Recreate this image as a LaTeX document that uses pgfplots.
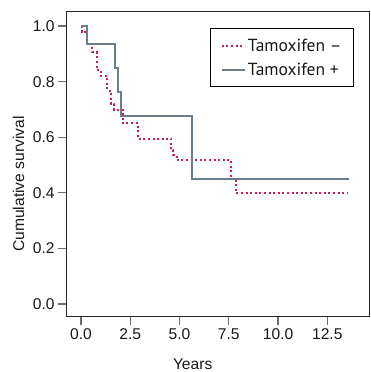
\documentclass[border=0pt]{standalone}
\usepackage{fontspec}
\setmainfont{Liberation Sans}
\newfontfamily\legfont{PT Sans}
\usepackage{pgfplots}
\pgfplotsset{compat=1.18}
\definecolor{tamneg}{RGB}{200,32,85}
\definecolor{tampos}{RGB}{108,126,138}
\definecolor{tickgray}{RGB}{110,110,110}
\begin{document}
\begin{tikzpicture}
\begin{axis}[
  at={(66.7pt,55.3pt)}, anchor=south west,
  scale only axis, width=302.8pt, height=305pt,
  xmin=-0.726, xmax=14.64, ymin=-0.046, ymax=1.052,
  xtick={0,2.5,5,7.5,10,12.5},
  ytick={0,0.2,0.4,0.6,0.8,1.0},
  tick align=outside, major tick length=8.5pt,
  tick style={tickgray, line width=1.3pt},
  xtick pos=bottom, ytick pos=left,
  axis line style={black!85, line width=1.3pt},
  /pgf/number format/assume math mode=true,
  /pgf/number format/.cd, fixed, fixed zerofill, precision=1, /pgfplots/.cd,
  ticklabel style={font=\fontsize{15.6}{18}\selectfont, text=black!90},
  label style={font=\fontsize{15.6}{18}\selectfont, text=black!90},
  xlabel={Years},
  ylabel={Cumulative survival},
  xlabel style={at={(axis description cs:0.416,-0.155)}, anchor=center},
  ylabel style={at={(axis description cs:-0.159,0.435)}, anchor=center, rotate=0},
  legend style={at={(axis description cs:0.9488,0.9456)}, anchor=north east,
    draw=black, line width=1.2pt, font=\legfont\fontsize{17.5}{20}\selectfont,
    inner xsep=10pt, inner ysep=8pt, row sep=6pt, text=black!90},
  legend cell align=left,
  legend image code/.code={\draw[#1] (0pt,0pt) -- (23pt,0pt);},
]
\addplot[const plot, tamneg, line width=2pt, dash pattern=on 2pt off 2.6pt] coordinates {
(0,1.0) (0.03,0.979) (0.29,0.934) (0.56,0.906) (0.80,0.843) (1.00,0.821)
(1.34,0.768) (1.50,0.720) (1.675,0.698) (2.12,0.650) (2.89,0.595)
(4.58,0.554) (4.69,0.537) (4.86,0.517) (7.63,0.450) (7.85,0.400) (13.52,0.400)};
\addlegendentry{Tamoxifen –}
\addplot[const plot, tampos, line width=2pt] coordinates {
(0,1.0) (0.29,0.934) (1.74,0.848) (1.90,0.764) (2.03,0.677) (5.63,0.451) (13.62,0.451)};
\addlegendentry{Tamoxifen +}
\end{axis}
\pgfresetboundingbox
\path[use as bounding box] (0,0) rectangle (370pt,372pt);
\end{tikzpicture}
\end{document}
